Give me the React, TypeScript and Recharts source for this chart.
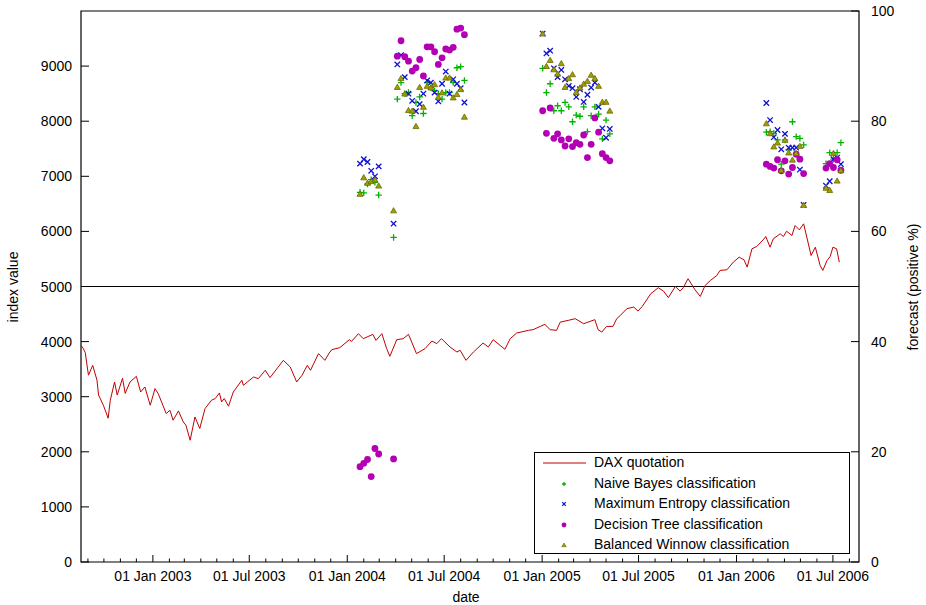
import React from 'react';
import {
  ComposedChart,
  Line,
  Scatter,
  XAxis,
  YAxis,
  ReferenceLine,
  ReferenceArea,
  Legend,
} from 'recharts';

const FONT = '"Liberation Sans", Arial, Helvetica, sans-serif';

// ---------- DAX quotation (index value, left axis) ----------
const daxDates = [
  '2002-08-19', '2002-08-23', '2002-08-27', '2002-09-02', '2002-09-10', '2002-09-18', '2002-09-21', '2002-09-30',
  '2002-10-09', '2002-10-13', '2002-10-21', '2002-10-26', '2002-11-05', '2002-11-10', '2002-11-19', '2002-12-01',
  '2002-12-09', '2002-12-17', '2002-12-27', '2003-01-05', '2003-01-11', '2003-01-26', '2003-02-02', '2003-02-08',
  '2003-02-18', '2003-02-27', '2003-03-04', '2003-03-12', '2003-03-21', '2003-03-30', '2003-04-09', '2003-04-21',
  '2003-04-28', '2003-05-06', '2003-05-10', '2003-05-15', '2003-05-23', '2003-06-01', '2003-06-17', '2003-06-20',
  '2003-07-09', '2003-07-18', '2003-07-31', '2003-08-09', '2003-09-03', '2003-09-16', '2003-09-28', '2003-10-08',
  '2003-10-18', '2003-10-24', '2003-11-08', '2003-11-20', '2003-11-28', '2003-12-03', '2003-12-18', '2004-01-05',
  '2004-01-09', '2004-01-22', '2004-01-31', '2004-02-18', '2004-02-24', '2004-03-06', '2004-03-15', '2004-03-21',
  '2004-04-03', '2004-04-15', '2004-04-25', '2004-05-01', '2004-05-10', '2004-05-26', '2004-06-08', '2004-06-17',
  '2004-06-26', '2004-07-12', '2004-07-25', '2004-07-31', '2004-08-11', '2004-08-25', '2004-09-12', '2004-09-22',
  '2004-10-01', '2004-10-14', '2004-10-23', '2004-11-02', '2004-11-14', '2004-12-06', '2004-12-15', '2005-01-06',
  '2005-01-16', '2005-01-28', '2005-02-04', '2005-02-19', '2005-03-04', '2005-03-20', '2005-04-10', '2005-04-16',
  '2005-04-23', '2005-05-02', '2005-05-14', '2005-05-21', '2005-05-28', '2005-05-31', '2005-06-09', '2005-06-22',
  '2005-06-30', '2005-07-08', '2005-07-24', '2005-08-07', '2005-08-17', '2005-08-26', '2005-09-08', '2005-09-17',
  '2005-09-23', '2005-10-02', '2005-10-15', '2005-10-25', '2005-11-03', '2005-11-13', '2005-11-25', '2005-12-01',
  '2005-12-14', '2005-12-26', '2006-01-06', '2006-01-15', '2006-01-21', '2006-01-30', '2006-02-08', '2006-02-20',
  '2006-02-25', '2006-03-05', '2006-03-11', '2006-03-24', '2006-03-30', '2006-04-05', '2006-04-15', '2006-04-21',
  '2006-04-29', '2006-05-07', '2006-05-13', '2006-05-21', '2006-05-29', '2006-06-07', '2006-06-12', '2006-06-20',
  '2006-06-26', '2006-07-01', '2006-07-08', '2006-07-13',
];
const daxValues = [
  3930, 3880, 3800, 3390, 3570, 3300, 3030, 2845,
  2610, 2935, 3267, 3030, 3334, 3060, 3267, 3370,
  3086, 3177, 2845, 3147, 3056, 2694, 2754, 2573,
  2742, 2543, 2482, 2210, 2633, 2423, 2785, 2935,
  2966, 3068, 2905, 2966, 2827, 3086, 3298, 3207,
  3358, 3328, 3479, 3346, 3660, 3539, 3267, 3388,
  3570, 3479, 3782, 3660, 3793, 3854, 3890, 4035,
  4004, 4144, 4053, 4131, 4022, 4144, 3872, 3733,
  4035, 4053, 4131, 3992, 3782, 3872, 4010, 3963,
  4053, 3902, 3811, 3842, 3660, 3811, 3974, 3902,
  4035, 3932, 3860, 4053, 4155, 4204, 4217, 4313,
  4217, 4204, 4354, 4385, 4416, 4325, 4398, 4217,
  4173, 4276, 4276, 4416, 4476, 4507, 4597, 4627,
  4554, 4639, 4869, 4978, 4916, 4797, 5001, 4916,
  4978, 5141, 4941, 4820, 5019, 5110, 5200, 5291,
  5304, 5442, 5532, 5485, 5351, 5684, 5726, 5847,
  5907, 5713, 5865, 5956, 5907, 6003, 5925, 6106,
  6028, 6137, 5895, 5563, 5713, 5382, 5291, 5472,
  5545, 5713, 5684, 5442,
];

// ---------- forecasts (positive %, right axis) ----------
const forecastDates = [
  '2004-01-25', '2004-02-01', '2004-02-08', '2004-02-15', '2004-02-22', '2004-02-29', '2004-03-28',
  '2004-04-04', '2004-04-11', '2004-04-18', '2004-04-25', '2004-05-02', '2004-05-09', '2004-05-16', '2004-05-23',
  '2004-05-30', '2004-06-06', '2004-06-13', '2004-06-20', '2004-06-27', '2004-07-04', '2004-07-11', '2004-07-18',
  '2004-07-25', '2004-08-01', '2004-08-08',
  '2005-01-02', '2005-01-09', '2005-01-16', '2005-01-23', '2005-01-30', '2005-02-06', '2005-02-13', '2005-02-20',
  '2005-02-27', '2005-03-06', '2005-03-13', '2005-03-20', '2005-03-27', '2005-04-03', '2005-04-10', '2005-04-17',
  '2005-04-24', '2005-05-01', '2005-05-08',
  '2006-02-26', '2006-03-05', '2006-03-12', '2006-03-19', '2006-03-26', '2006-04-02', '2006-04-09', '2006-04-16',
  '2006-04-23', '2006-04-30', '2006-05-07', '2006-06-18', '2006-06-25', '2006-07-02', '2006-07-09', '2006-07-16',
];
const naiveBayes = [
  67.1, 67.0, 68.6, 69.4, 68.9, 66.6, 58.9,
  84.0, 87.0, 85.0, 85.2, 81.0, 83.4, 84.4, 81.4, 87.0, 86.1, 85.5, 85.0, 84.0, 85.2, 85.2, 87.0, 89.7, 89.9, 87.4,
  89.6, 85.2, 86.8, 81.9, 82.8, 81.9, 83.4, 82.6, 79.9, 81.1, 80.9, 82.6, 78.1, 81.0, 82.6, 81.3, 76.8, 80.2, 77.7,
  78.0, 78.1, 77.8, 76.6, 72.2, 76.6, 74.8, 79.9, 77.2, 76.9, 75.7, 72.3, 74.3, 73.1, 74.3, 76.1,
];
const maxEntropy = [
  72.3, 73.1, 72.6, 71.0, 70.0, 71.8, 61.4,
  90.3, 92.0, 88.0, 85.0, 83.7, 81.8, 83.1, 85.0, 87.4, 87.0, 85.2, 83.6, 86.8, 89.0, 85.0, 87.6, 86.8, 86.0, 83.4,
  95.9, 92.3, 92.8, 89.6, 88.0, 89.3, 87.6, 86.4, 86.0, 84.4, 85.8, 83.5, 84.8, 86.1, 87.0, 82.6, 78.7, 77.0, 78.6,
  83.3, 80.2, 77.1, 78.4, 74.9, 77.7, 75.2, 75.2, 75.2, 71.2, 64.8, 68.3, 69.1, 73.1, 73.4, 72.2,
];
const decisionTree = [
  17.3, 17.9, 18.6, 15.5, 20.6, 19.6, 18.7,
  91.8, 94.6, 91.7, 90.9, 89.1, 89.7, 91.2, 88.2, 93.5, 93.5, 92.6, 90.3, 91.5, 93.1, 92.9, 93.4, 96.7, 96.9, 95.7,
  81.9, 77.8, 82.4, 76.9, 77.7, 76.6, 75.5, 76.8, 75.4, 76.1, 75.8, 77.5, 73.4, 75.8, 80.6, 78.0, 74.1, 73.4, 72.8,
  72.2, 71.8, 71.5, 73.0, 71.0, 72.8, 70.4, 71.6, 74.0, 73.1, 70.5, 71.5, 72.3, 71.6, 73.0, 71.1,
];
const balancedWinnow = [
  66.8, 69.8, 68.8, 69.1, 69.4, 68.3, 63.8,
  86.2, 87.8, 85.0, 82.0, 81.9, 79.1, 86.2, 82.6, 86.4, 86.1, 86.7, 84.4, 85.2, 87.9, 87.9, 84.3, 84.9, 85.8, 80.8,
  95.9, 90.0, 91.1, 89.4, 88.6, 90.5, 86.2, 87.8, 88.5, 85.3, 86.1, 86.8, 87.3, 88.4, 87.8, 86.4, 83.5, 83.5, 81.9,
  79.6, 77.8, 75.4, 76.1, 71.1, 76.6, 74.3, 73.0, 74.2, 75.5, 64.8, 67.9, 67.5, 74.2, 69.2, 71.1,
];

// ---------- axes ----------
const xDomainDates = ['2002-08-19', '2006-08-19'];
const xMajorTickDates = [
  '2003-01-01', '2003-07-01', '2004-01-01', '2004-07-01',
  '2005-01-01', '2005-07-01', '2006-01-01', '2006-07-01',
];
const xMajorTickLabels = [
  '01 Jan 2003', '01 Jul 2003', '01 Jan 2004', '01 Jul 2004',
  '01 Jan 2005', '01 Jul 2005', '01 Jan 2006', '01 Jul 2006',
];
const leftTicks = [0, 1000, 2000, 3000, 4000, 5000, 6000, 7000, 8000, 9000];
const rightTicks = [0, 20, 40, 60, 80, 100];

const COLORS = {
  dax: '#c00000',
  nb: '#00b400',
  me: '#1010d0',
  dt: '#b400b4',
  bw: '#a0a000',
  bwEdge: '#6a6a00',
};

const toT = (s: string) => Date.parse(s + 'T00:00:00Z');
const tMin = toT(xDomainDates[0]);
const tMax = toT(xDomainDates[1]);

const daxData = daxDates.map((d, i) => ({ t: toT(d), v: daxValues[i] }));
const mk = (arr: number[]) => forecastDates.map((d, i) => ({ t: toT(d), p: arr[i] }));
const nbData = mk(naiveBayes);
const meData = mk(maxEntropy);
const dtData = mk(decisionTree);
const bwData = mk(balancedWinnow);

const majorTs = xMajorTickDates.map(toT);
const minorTs: number[] = [];
for (let y = 2002; y <= 2006; y++) {
  for (let m = 0; m < 12; m++) {
    const t = Date.UTC(y, m, 1);
    if (t > tMin && t < tMax && !majorTs.includes(t)) minorTs.push(t);
  }
}
const allXTicks = [...majorTs, ...minorTs].sort((a, b) => a - b);

// ---------- tick renderers ----------
const XTick = (props: any) => {
  const { x, y, payload } = props;
  const idx = majorTs.indexOf(payload.value);
  const major = idx >= 0;
  return (
    <g>
      <line x1={x} x2={x} y1={y} y2={y - (major ? 7 : 3.5)} stroke="#000" strokeWidth={1} />
      {major && (
        <text x={x} y={y + 19} textAnchor="middle" fontSize={14} fontFamily={FONT} fill="#000">
          {xMajorTickLabels[idx]}
        </text>
      )}
    </g>
  );
};

const LeftTick = (props: any) => {
  const { x, y, payload } = props;
  return (
    <g>
      <line x1={x} x2={x + 8} y1={y} y2={y} stroke="#000" strokeWidth={1} />
      <text x={x - 9} y={y + 5} textAnchor="end" fontSize={14} fontFamily={FONT} fill="#000">
        {payload.value}
      </text>
    </g>
  );
};

const RightTick = (props: any) => {
  const { x, y, payload } = props;
  return (
    <g>
      <line x1={x} x2={x - 8} y1={y} y2={y} stroke="#000" strokeWidth={1} />
      <text x={x + 12} y={y + 5} textAnchor="start" fontSize={14} fontFamily={FONT} fill="#000">
        {payload.value}
      </text>
    </g>
  );
};

// ---------- marker shapes ----------
const PlusShape = (props: any) => {
  const { cx, cy } = props;
  const a = 3.2;
  return (
    <path d={`M${cx - a},${cy}H${cx + a}M${cx},${cy - a}V${cy + a}`} stroke={COLORS.nb} strokeWidth={1.3} fill="none" />
  );
};
const CrossShape = (props: any) => {
  const { cx, cy } = props;
  const a = 2.7;
  return (
    <path
      d={`M${cx - a},${cy - a}L${cx + a},${cy + a}M${cx - a},${cy + a}L${cx + a},${cy - a}`}
      stroke={COLORS.me}
      strokeWidth={1.3}
      fill="none"
    />
  );
};
const CircleShape = (props: any) => {
  const { cx, cy } = props;
  return <circle cx={cx} cy={cy} r={3.4} fill={COLORS.dt} />;
};
const TriangleShape = (props: any) => {
  const { cx, cy } = props;
  const w = 3;
  return (
    <path
      d={`M${cx - w},${cy + 2.4}L${cx + w},${cy + 2.4}L${cx},${cy - 2.8}Z`}
      fill={COLORS.bw}
      stroke={COLORS.bwEdge}
      strokeWidth={0.8}
    />
  );
};

// ---------- legend ----------
const legendNames = [
  'DAX quotation',
  'Naive Bayes classification',
  'Maximum Entropy classification',
  'Decision Tree classification',
  'Balanced Winnow classification',
];

const LegendMarker = ({ i }: { i: number }) => {
  const cx = 29;
  const cy = 6;
  if (i === 0) return <line x1={8} x2={51} y1={cy} y2={cy} stroke={COLORS.dax} strokeWidth={1} />;
  if (i === 1)
    return <path d={`M${cx - 2},${cy}H${cx + 2}M${cx},${cy - 2}V${cy + 2}`} stroke={COLORS.nb} strokeWidth={1.3} />;
  if (i === 2)
    return (
      <path
        d={`M${cx - 1.8},${cy - 1.8}L${cx + 1.8},${cy + 1.8}M${cx - 1.8},${cy + 1.8}L${cx + 1.8},${cy - 1.8}`}
        stroke={COLORS.me}
        strokeWidth={1.2}
      />
    );
  if (i === 3) return <circle cx={cx} cy={cy} r={2.4} fill={COLORS.dt} />;
  return (
    <path
      d={`M${cx - 2.2},${cy + 1.7}L${cx + 2.2},${cy + 1.7}L${cx},${cy - 2}Z`}
      fill={COLORS.bw}
      stroke={COLORS.bwEdge}
      strokeWidth={0.6}
    />
  );
};

const LegendBox = () => (
  <div
    style={{
      position: 'relative',
      width: 316,
      height: 102,
      boxSizing: 'border-box',
      border: '1.2px solid #000',
      background: '#fff',
      fontFamily: FONT,
      fontSize: 14,
      color: '#000',
    }}
  >
    {legendNames.map((name, i) => (
      <div key={name} style={{ position: 'absolute', left: 0, top: 2 + i * 20.5, height: 16, width: 316 }}>
        <svg width={56} height={12} style={{ position: 'absolute', left: 0, top: 2 }}>
          <LegendMarker i={i} />
        </svg>
        <span style={{ position: 'absolute', left: 59, top: -1, whiteSpace: 'nowrap', lineHeight: '16px' }}>{name}</span>
      </div>
    ))}
  </div>
);

const AxisTitle = (props: any) => {
  const { tx, ty, rot, text } = props;
  return (
    <text
      x={tx}
      y={ty}
      textAnchor="middle"
      fontSize={14}
      fontFamily={FONT}
      fill="#000"
      transform={rot ? `rotate(-90, ${tx}, ${ty})` : undefined}
    >
      {text}
    </text>
  );
};

export default function App() {
  return (
    <div style={{ position: 'absolute', left: 0, top: 0, width: 926, height: 605, background: '#fff' }}>
      <ComposedChart
        width={926}
        height={605}
        margin={{ top: 11, right: 7, bottom: 13, left: 21 }}
        style={{ fontFamily: FONT }}
      >
        <XAxis
          dataKey="t"
          type="number"
          scale="linear"
          domain={[tMin, tMax]}
          allowDataOverflow
          ticks={allXTicks}
          interval={0}
          tick={XTick}
          tickLine={false}
          axisLine={false}
          tickSize={0}
          tickMargin={0}
          height={30}
          label={<AxisTitle tx={466} ty={602} text="date" />}
        />
        <YAxis
          yAxisId="left"
          type="number"
          domain={[0, 10000]}
          allowDataOverflow
          ticks={leftTicks}
          interval={0}
          width={60}
          tick={LeftTick}
          tickLine={false}
          axisLine={false}
          tickSize={0}
          tickMargin={0}
          label={<AxisTitle tx={18} ty={287} rot text="index value" />}
        />
        <YAxis
          yAxisId="right"
          orientation="right"
          type="number"
          dataKey="p"
          domain={[0, 100]}
          allowDataOverflow
          ticks={rightTicks}
          interval={0}
          width={60}
          tick={RightTick}
          tickLine={false}
          axisLine={false}
          tickSize={0}
          tickMargin={0}
          label={<AxisTitle tx={918} ty={287} rot text="forecast (positive %)" />}
        />
        <ReferenceLine yAxisId="right" y={50} stroke="#000" strokeWidth={1.2} />
        <Line
          yAxisId="left"
          data={daxData}
          dataKey="v"
          name="DAX quotation"
          stroke={COLORS.dax}
          strokeWidth={1}
          dot={false}
          activeDot={false}
          isAnimationActive={false}
        />
        <Scatter yAxisId="right" data={nbData} dataKey="p" name="Naive Bayes classification" shape={PlusShape} isAnimationActive={false} />
        <Scatter yAxisId="right" data={meData} dataKey="p" name="Maximum Entropy classification" shape={CrossShape} isAnimationActive={false} />
        <Scatter yAxisId="right" data={dtData} dataKey="p" name="Decision Tree classification" shape={CircleShape} isAnimationActive={false} />
        <Scatter yAxisId="right" data={bwData} dataKey="p" name="Balanced Winnow classification" shape={TriangleShape} isAnimationActive={false} />
        <ReferenceArea
          yAxisId="left"
          x1={tMin}
          x2={tMax}
          y1={0}
          y2={10000}
          fill="none"
          fillOpacity={0}
          stroke="#000"
          strokeWidth={1.2}
        />
        <Legend
          layout="horizontal"
          verticalAlign="middle"
          align="center"
          content={<LegendBox />}
          wrapperStyle={{ position: 'absolute', left: 534, top: 452, width: 316, height: 102, right: 'auto', bottom: 'auto' }}
        />
      </ComposedChart>
    </div>
  );
}
